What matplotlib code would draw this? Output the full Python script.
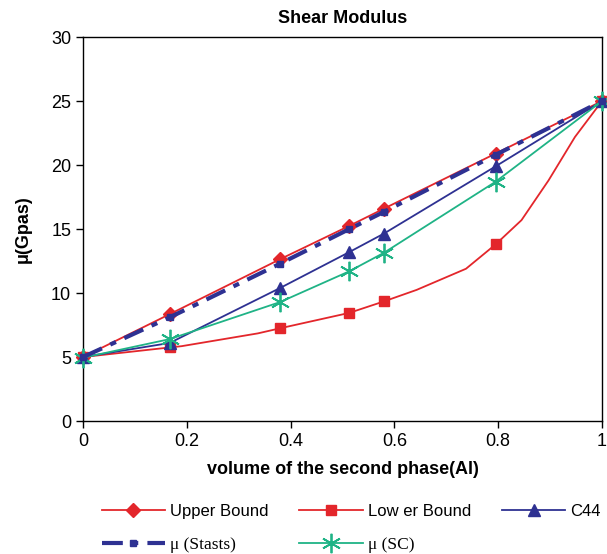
import numpy as np
import matplotlib.pyplot as plt
from matplotlib import rcParams

rcParams['font.family'] = ['Liberation Sans', 'DejaVu Sans']
FS = 13

# data
vol_upper = [0, 0.167, 0.38, 0.513, 0.58, 0.795, 1.0]
mu_upper = [5.0, 8.35, 12.65, 15.25, 16.6, 20.9, 25.0]

vol_lower = [0, 0.167, 0.19, 0.337, 0.38, 0.513, 0.58, 0.643, 0.738, 0.795, 0.845, 0.897, 0.948, 1.0]
mu_lower = [5.0, 5.75, 5.85, 6.85, 7.25, 8.45, 9.35, 10.25, 11.9, 13.8, 15.7, 18.8, 22.2, 25.0]
lower_marks = [0, 1, 4, 5, 6, 9, 13]

vol_c44 = [0, 0.167, 0.38, 0.513, 0.58, 0.795, 1.0]
mu_c44 = [5.0, 6.1, 10.4, 13.2, 14.65, 19.9, 25.0]

vol_stats = [0, 0.167, 0.38, 0.513, 0.58, 0.795, 1.0]
mu_stats = [5.0, 8.1, 12.3, 15.0, 16.35, 20.8, 25.0]

vol_sc = [0, 0.167, 0.38, 0.513, 0.58, 0.795, 1.0]
mu_sc = [4.95, 6.4, 9.3, 11.7, 13.15, 18.7, 25.0]

RED = '#e3262b'
NAVY = '#2e3192'
GREEN = '#1fb386'

fig = plt.figure(figsize=(6.07, 5.54), dpi=100)
ax = fig.add_axes([0.1367, 0.24, 0.855, 0.693])

l_up, = ax.plot(vol_upper, mu_upper, color=RED, lw=1.3, marker='D', ms=7,
                mfc=RED, mec=RED, label='Upper Bound', zorder=3, clip_on=False)
l_lo, = ax.plot(vol_lower, mu_lower, color=RED, lw=1.3, marker='s', ms=7,
                markevery=lower_marks, mfc=RED, mec=RED, label='Low er Bound',
                zorder=3, clip_on=False)
l_c44, = ax.plot(vol_c44, mu_c44, color=NAVY, lw=1.3, marker='^', ms=8,
                 mfc=NAVY, mec=NAVY, label='C44', zorder=3, clip_on=False)
l_st, = ax.plot(vol_stats, mu_stats, color=NAVY, lw=3, ls=(0, (5, 2.2, 1.5, 2.2)),
                marker='s', ms=5, mfc=NAVY, mec=NAVY, label=r'μ (Stasts)',
                zorder=4, clip_on=False)
l_sc, = ax.plot(vol_sc, mu_sc, color=GREEN, lw=1.3, marker=(6, 2, 0), ms=14,
                mec=GREEN, mew=1.3, label=r'μ (SC)', zorder=3, clip_on=False)

ax.set_xlim(0, 1)
ax.set_ylim(0, 30)
ax.set_xticks([0, 0.2, 0.4, 0.6, 0.8, 1])
ax.set_xticklabels(['0', '0.2', '0.4', '0.6', '0.8', '1'])
ax.set_yticks(range(0, 31, 5))
ax.tick_params(labelsize=FS, direction='out', length=5, width=1)
for s in ax.spines.values():
    s.set_linewidth(1)

ax.set_title('Shear Modulus', fontsize=FS, fontweight='bold', pad=10)
ax.set_xlabel('volume of the second phase(Al)', fontsize=FS, fontweight='bold', labelpad=8)
ax.set_ylabel('μ(Gpas)', fontsize=FS, fontweight='bold', labelpad=14)

leg = fig.legend([l_up, l_st, l_lo, l_sc, l_c44],
                 ['Upper Bound', 'μ (Stasts)', 'Low er Bound', 'μ (SC)', 'C44'],
                 ncol=3, loc='lower left', bbox_to_anchor=(0.143, -0.025),
                 frameon=False, fontsize=12, handlelength=3.8, columnspacing=1.85,
                 handletextpad=0.3, labelspacing=1.1)
for t in leg.get_texts():
    if 'μ' in t.get_text():
        t.set_family('Liberation Serif')
        t.set_fontsize(12.5)

fig.savefig('out.png', dpi=100)
